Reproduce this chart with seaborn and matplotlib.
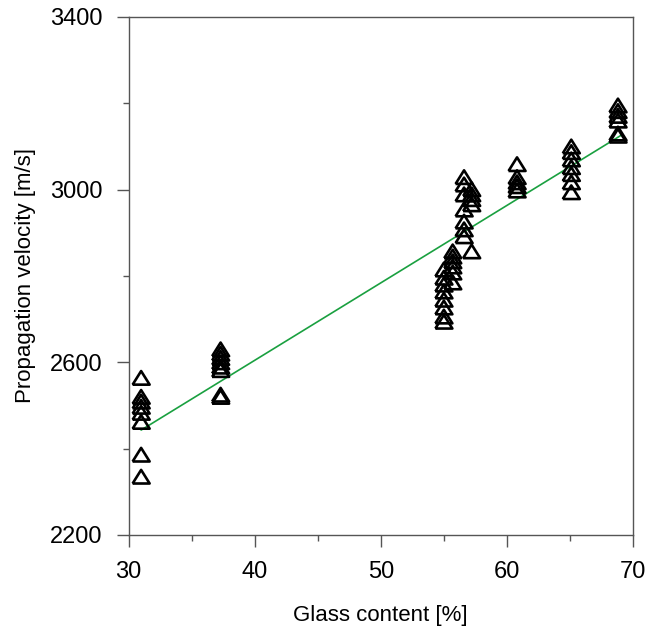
import matplotlib
matplotlib.use("Agg")
import matplotlib.pyplot as plt
import numpy as np
import pandas as pd
import seaborn as sns
from matplotlib.ticker import FixedLocator

# Measured points, one list per glass-content group
glass_31 = [2564, 2520, 2509, 2497, 2483, 2462, 2386, 2335]
glass_37 = [2630, 2620, 2610, 2600, 2590, 2582, 2525, 2520]
glass_55 = [2815, 2796, 2780, 2764, 2745, 2727, 2706, 2694]
glass_557 = [2857, 2845, 2834, 2822, 2808, 2785]
glass_566 = [3029, 3012, 2989, 2954, 2926, 2908, 2892]
glass_572 = [3001, 2989, 2978, 2966, 2857]
glass_608 = [3059, 3029, 3017, 3008, 2998]
glass_651 = [3100, 3087, 3070, 3052, 3036, 3017, 2994]
glass_688 = [3195, 3182, 3171, 3160, 3130, 3125]

groups = {31.0: glass_31, 37.3: glass_37, 55.0: glass_55, 55.7: glass_557,
          56.6: glass_566, 57.2: glass_572, 60.8: glass_608, 65.1: glass_651,
          68.8: glass_688}

# regression line end points
fit_x = [31, 69]
fit_y = [2443, 3125]

x_major = [30, 40, 50, 60, 70]
x_minor = [35, 45, 55, 65]
y_major = [2200, 2600, 3000, 3400]
y_minor = [2400, 2800, 3200]

rows = [(g, v) for g, vals in groups.items() for v in vals]
df = pd.DataFrame(rows, columns=["glass", "velocity"])

sns.set_style("ticks")
plt.rcParams["font.family"] = ["Liberation Sans", "DejaVu Sans"]

fig = plt.figure(figsize=(6.57, 6.43), dpi=100)
ax = fig.add_axes([0.1956, 0.168, 0.768, 0.8056])

sns.lineplot(x=fit_x, y=fit_y, color="#1aa040", linewidth=1.2, ax=ax)

# open triangle, a bit wider than tall
tri = [(-1, -0.8), (1, -0.8), (0, 0.8), (-1, -0.8)]
sns.scatterplot(data=df, x="glass", y="velocity", marker=tri, s=150,
                facecolor="none", edgecolor="black", linewidth=1.9, ax=ax, zorder=3)

ax.set_xlim(30, 70)
ax.set_ylim(2200, 3400)
ax.xaxis.set_major_locator(FixedLocator(x_major))
ax.xaxis.set_minor_locator(FixedLocator(x_minor))
ax.yaxis.set_major_locator(FixedLocator(y_major))
ax.yaxis.set_minor_locator(FixedLocator(y_minor))
ax.tick_params(which="major", direction="out", length=8.5, width=1, color="#555555",
               labelsize=17, labelcolor="black", pad=10)
ax.tick_params(which="minor", direction="out", length=4.5, width=1, color="#555555")
for sp in ax.spines.values():
    sp.set_color("#555555")
    sp.set_linewidth(1)

ax.set_xlabel("Glass content [%]", fontsize=16, color="black", labelpad=16)
ax.set_ylabel("Propagation velocity [m/s]", fontsize=16, color="black", labelpad=10)

plt.savefig("out.png", dpi=100)
